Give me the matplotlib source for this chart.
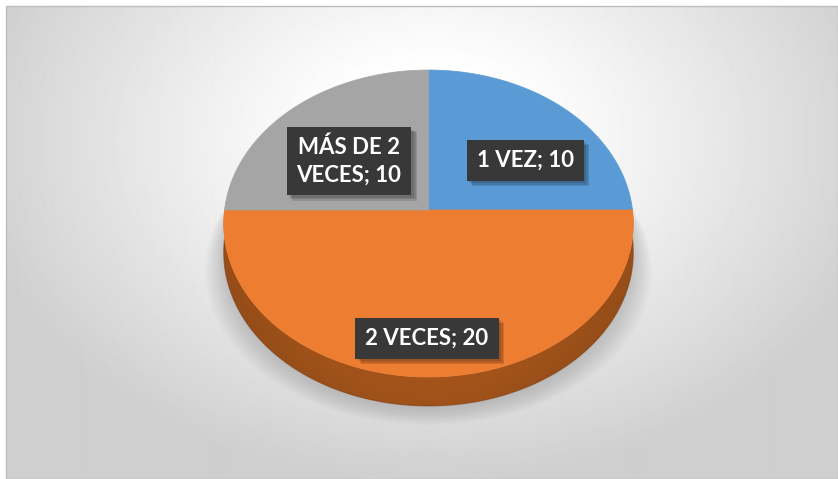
import numpy as np
import matplotlib
matplotlib.use("Agg")
import matplotlib.pyplot as plt
import matplotlib.patheffects as pe
from matplotlib.patches import Polygon, Rectangle

# Data
categories = ['1 VEZ', '2 VECES', 'MÁS DE 2 VECES']
values = [10, 20, 10]
colors = ['#5B9BD5', '#ED7D31', '#A5A5A5']
label_texts = ['1 VEZ; 10', '2 VECES; 20', 'MÁS DE 2\nVECES; 10']
label_pos = [(525, 160), (427, 338), (349, 161)]

W, H = 838, 479
fig = plt.figure(figsize=(W / 100, H / 100), dpi=100)
ax = fig.add_axes([0, 0, 1, 1])

# pie in unit coordinates, later projected with a simple perspective
wedges, _ = ax.pie(values, colors=colors, startangle=90, counterclock=False,
                   radius=1, center=(0, 0))

cx, cy, rx, A, k = 428.5, 210, 204, 152.3, 0.088
depth = 29


def project(pts):
    u, v = pts[:, 0], pts[:, 1]
    s = 1 + k * v
    return np.column_stack([cx + rx * u / s, cy - A * v / s])


def wedge_outline(w, n=200):
    th = np.radians(np.linspace(w.theta1, w.theta2, n))
    arc = np.column_stack([w.center[0] + w.r * np.cos(th),
                           w.center[1] + w.r * np.sin(th)])
    return np.vstack([[w.center], arc])


# background radial gradient
yy, xx = np.mgrid[6:H, 6:W]
r = np.sqrt(((xx - 430) / 470.0) ** 2 + ((yy - 140) / 345.0) ** 2)
bg = 1 - 0.19 * np.clip((r - 0.2) / 0.8, 0, 1) ** 1.1
ax.imshow(bg, extent=(6, W, H, 6), cmap='gray', vmin=0, vmax=1,
          interpolation='bilinear', zorder=0)
ax.add_patch(Rectangle((6, 6), W - 6, H - 6, fill=False, edgecolor='#bdbdbd',
                       lw=1, zorder=1))

# rim of the disc
t = np.linspace(0, 2 * np.pi, 400)
rim = project(np.column_stack([np.cos(t), np.sin(t)]))

# soft shadow
for i in range(14):
    sh = rim.copy()
    sh[:, 1] += depth + 2 + i * 1.3
    sh[:, 0] = cx + (sh[:, 0] - cx) * (1 + i * 0.007)
    ax.add_patch(Polygon(sh, closed=True, facecolor='#707070', edgecolor='none',
                         alpha=0.022, zorder=2))

# side of the disc (front half)
tf = np.linspace(np.pi, 2 * np.pi, 200)
front = project(np.column_stack([np.cos(tf), np.sin(tf)]))
lower = front.copy()
lower[:, 1] += depth
side = Polygon(np.vstack([front, lower[::-1]]), closed=True, facecolor='none',
               edgecolor='none', zorder=3)
ax.add_patch(side)

gx = np.linspace(-1, 1, 300)
gy = np.linspace(0, 1, 60)
GX, GY = np.meshgrid(gx, gy)
base = np.array([0.74, 0.38, 0.12])
shade = (0.80 + 0.20 * (1 - np.abs(GX) ** 2)) * (1.06 - 0.22 * GY)
img = np.clip(base[None, None, :] * shade[:, :, None], 0, 1)
y0 = front[:, 1].min()
y1 = lower[:, 1].max()
im = ax.imshow(img, extent=(cx - rx - 2, cx + rx + 2, y1, y0 - 2), zorder=3,
               interpolation='bilinear')
im.set_clip_path(side)
ax.plot(lower[:, 0], lower[:, 1], color='#7a3b10', lw=0.8, alpha=0.5, zorder=3)

# top surface: project each pie wedge
for w in wedges:
    fc = w.get_facecolor()
    ax.add_patch(Polygon(project(wedge_outline(w)), closed=True, facecolor=fc,
                         edgecolor=fc, lw=0.5, zorder=4))
    w.remove()

ax.set_xlim(0, W)
ax.set_ylim(H, 0)
ax.set_aspect('auto')
ax.axis('off')

# data labels
shadow = [pe.SimplePatchShadow(offset=(o, -o), shadow_rgbFace='black', alpha=0.12)
          for o in (4, 3, 2)]
for txt, (lx, ly) in zip(label_texts, label_pos):
    tx = ax.text(lx, ly, txt, ha='center', va='center', fontsize=16,
                 family='Lato', weight='bold', color='white', linespacing=1.35,
                 bbox=dict(boxstyle='square,pad=0.45', facecolor='#383838',
                           edgecolor='none'), zorder=6)
    tx.get_bbox_patch().set_path_effects(shadow + [pe.Normal()])

fig.savefig('out.png', dpi=100, facecolor='white')
